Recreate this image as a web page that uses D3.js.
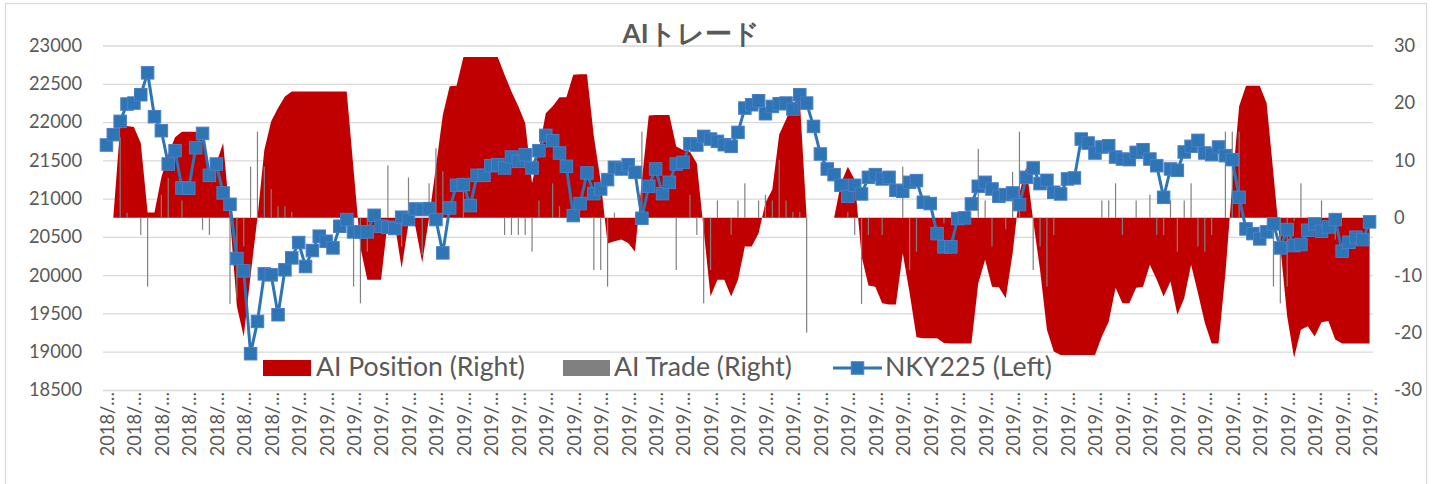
<!DOCTYPE html>
<html>
<head>
<meta charset="utf-8">
<script src="https://cdn.jsdelivr.net/npm/d3@7"></script>
<style>
  body { margin: 0; background: #fff; }
</style>
</head>
<body>
<div class="svg-container"></div>
<script>
//Data (one value per trading day)
const nky225 = [
  21700, 21835, 22009, 22235, 22248, 22357, 22643, 22070, 21887, 21452,
  21626, 21139, 21135, 21665, 21852, 21304, 21452, 21074, 20926, 20217,
  20056, 18974, 19396, 20017, 20004, 19483, 20070, 20226, 20426, 20113,
  20322, 20509, 20443, 20356, 20639, 20726, 20565, 20565, 20565, 20782,
  20639, 20626, 20609, 20757, 20726, 20865, 20857, 20870, 20726, 20291,
  20878, 21174, 21183, 20909, 21304, 21304, 21430, 21443, 21400, 21543,
  21487, 21574, 21400, 21626, 21826, 21757, 21596, 21422, 20778, 20935,
  21335, 21065, 21126, 21248, 21409, 21387, 21443, 21343, 20743, 21161,
  21387, 21065, 21213, 21452, 21474, 21717, 21700, 21813, 21778, 21748,
  21704, 21683, 21865, 22183, 22226, 22278, 22109, 22204, 22239, 22248,
  22170, 22357, 22248, 21943, 21583, 21387, 21313, 21174, 21030, 21174,
  21061, 21278, 21313, 21257, 21278, 21109, 21096, 21213, 21235, 20952,
  20935, 20543, 20370, 20370, 20739, 20748, 20930, 21161, 21213, 21126,
  21030, 21052, 21074, 20922, 21278, 21400, 21196, 21239, 21083, 21061,
  21257, 21270, 21778, 21726, 21596, 21674, 21691, 21543, 21517, 21509,
  21604, 21639, 21517, 21430, 21017, 21387, 21370, 21609, 21683, 21761,
  21596, 21574, 21674, 21561, 21509, 21017, 20604, 20543, 20474, 20565,
  20669, 20356, 20596, 20387, 20400, 20587, 20669, 20574, 20630, 20726,
  20313, 20430, 20496, 20465, 20696
];

const aiPosition = [
  0, 0, 15.8, 16, 15.8, 13, 0.9, 0.9, 7, 11,
  14, 15, 15, 15, 13.5, 8.5, 9.5, 13, 0, -15.4,
  -20.7, -10, 0, 11.8, 16.8, 19.1, 21.1, 22, 22, 22,
  22, 22, 22, 22, 22, 22, 8.4, -5.2, -10.8, -10.8,
  -10.8, -0.5, -1, -8.8, -1, -1.5, -7.8, 0, 8.9, 17.9,
  22.9, 23, 28, 28, 28, 28, 28, 28, 24.9, 22,
  19.4, 16.5, 6, 11.8, 18.2, 19.4, 21, 21, 24.9, 25,
  25, 14.2, 6.3, -4.5, -4.1, -3.8, -4.4, -5.9, 6.6, 17.8,
  17.9, 17.9, 17.9, 12.4, 11.8, 11.5, 9.5, -2.1, -13.7, -10.8,
  -10.8, -13.7, -10.8, -5, -5, -2.7, 2.6, 4.9, 14.5, 17.1,
  20, 20.5, 0, 0, 0, 0, 0, 6, 8.9, 6.6,
  -6.7, -11.8, -12, -14.9, -15.1, -15.1, -6.2, -13.1, -20.8, -21,
  -21, -21, -21.8, -21.9, -21.9, -21.9, -21.9, -11.4, -7.3, -12,
  -12.1, -14, -6.2, 4.3, 8.9, -0.5, -9.1, -19.5, -23.3, -23.9,
  -23.9, -23.9, -23.9, -23.9, -23.9, -20.7, -18.1, -12.2, -14.9, -14.9,
  -12.2, -12, -8.2, -10.8, -13.7, -11.1, -16.9, -14, -8.2, -13.1,
  -18.3, -21.9, -21.9, -9.7, 5.8, 19.4, 23, 23, 23, 20,
  7.6, -5, -17.2, -24.4, -19.5, -18.9, -20.7, -18.2, -18, -21.2,
  -21.9, -21.9, -21.9, -21.9, -21.9
];

const aiTrade = [
  0, 0, 14, 0.9, 0, -3, -12, 0, 4, 6.9,
  0, 3, 0, 0, -2.1, -3, 0, 0, -15, -14,
  -5, 8.9, 15, 8.9, 5, 2, 2, 1, 0, 0,
  0, 0, 0, 0, 0, 0, -12, -14.9, -5.9, 0,
  0, 9.1, 0, -5, 7, 0, -6.5, 6, 12.1, 8.1,
  0, 0, 4.6, 0, 0, 0, 0, 0, -3, -3,
  -3, -3, -5.9, 3, 0, 6, 2, 0, 0, 0,
  0, -9.1, -9.1, -12, 0.9, 0, 0, 0, 15, 0,
  0, 0, 0, -9.1, 0, 4, -3, -14.9, -9.1, 3,
  0, -3, 3, 6, 0, 3, 4, 3, 10.1, 3,
  1, 1, -20, 0, 0, 0, 0, 0, 1, -3,
  -15, -3, 0, -3, 0, 0, 8.9, -9.1, -5.9, 0,
  0, 0, -1, 0, 0, 0, 0, 12, 3, -5,
  0, -2, 8, 15, 0, -9.1, -5, -12, -3, 0,
  0, 0, 0, 0, 0, 3, 3, 6, -3, 0,
  3, 0, 4, -3, -3, 3, -5.9, 3, 6, -5,
  -5.9, -3, 0, 15, 15, 15, 0, 0, 0, 0,
  -12, -14.9, -12, -0.6, 6, 0, 0, 3, 0, -3.8,
  0, 0, 0, 0, 0
];

//one label every 4th category, as Excel shows them (truncated)
const tickLabels = [
  '2018/…', '2018/…', '2018/…', '2018/…', '2018/…', '2018/…', '2018/…',
  '2019/…', '2019/…', '2019/…', '2019/…', '2019/…', '2019/…', '2019/…', '2019/…',
  '2019/…', '2019/…', '2019/…', '2019/…', '2019/…', '2019/…', '2019/…', '2019/…',
  '2019/…', '2019/…', '2019/…', '2019/…', '2019/…', '2019/…', '2019/…', '2019/…',
  '2019/…', '2019/…', '2019/…', '2019/…', '2019/…', '2019/…', '2019/…', '2019/…',
  '2019/…', '2019/…', '2019/…', '2019/…', '2019/…', '2019/…', '2019/…', '2019/…'
];
const labelStep = 4;

const leftTicks = [18500, 19000, 19500, 20000, 20500, 21000, 21500, 22000, 22500, 23000];
const rightTicks = [-30, -20, -10, 0, 10, 20, 30];
const seriesNames = ['AI Position (Right)', 'AI Trade (Right)', 'NKY225 (Left)'];
const chartTitle = 'AIトレード';

//Layout
const W = 1437, H = 484;
const plot = {left: 103, right: 1373, top: 45.5, bottom: 390};
const textColor = '#595959';
const font = 'Lato, "Open Sans", sans-serif';
const red = '#C00000', gray = '#808080', blue = '#2E75B6';

const svg = d3.select('.svg-container')
  .append('svg')
  .attr('width', W)
  .attr('height', H)
  .style('font-family', font);

svg.append('rect')
  .attr('x', 0).attr('y', 0).attr('width', W).attr('height', H)
  .attr('fill', '#fff');

//chart border
svg.append('rect')
  .attr('x', 5.5).attr('y', 3.5)
  .attr('width', 1421).attr('height', 520)
  .attr('fill', 'none')
  .attr('stroke', '#d9d9d9')
  .attr('stroke-width', 1.3);

//font size so that a string gets a given width
function fitSize(text, target, weight) {
  const t = svg.append('text')
    .style('font-size', '100px')
    .style('font-weight', weight || 'normal')
    .text(text);
  const w = t.node().getComputedTextLength();
  t.remove();
  return 100 * target / w;
}
const tickSize = fitSize('23000', 53);
const legendSize = fitSize(seriesNames[0], 209);
const titleSize = fitSize(chartTitle, 134, 'bold');

//Scales
const cats = d3.range(nky225.length);
const x = d3.scaleBand().domain(cats).range([plot.left, plot.right]);
const cx = i => x(i) + x.bandwidth() / 2;
const yL = d3.scaleLinear().domain([18500, 23000]).range([plot.bottom, plot.top]);
const yR = d3.scaleLinear().domain([-30, 30]).range([plot.bottom, plot.top]);

//Gridlines
svg.append('g')
  .attr('class', 'grid')
  .attr('transform', `translate(${plot.left},0)`)
  .call(d3.axisLeft(yL).tickValues(leftTicks).tickSize(-(plot.right - plot.left)).tickFormat(''))
  .call(g => g.select('.domain').remove())
  .selectAll('line')
  .attr('stroke', '#d9d9d9')
  .attr('stroke-width', 1.3);

//AI Position area
const area = d3.area()
  .x((d, i) => cx(i))
  .y0(yR(0))
  .y1(d => yR(d));

svg.append('path')
  .datum(aiPosition)
  .attr('d', area)
  .attr('fill', red);

//AI Trade bars
svg.append('g')
  .selectAll('rect')
  .data(aiTrade.map((v, i) => ({i, v})).filter(d => d.v !== 0))
  .join('rect')
  .attr('x', d => cx(d.i) - 0.6)
  .attr('width', 1.2)
  .attr('y', d => Math.min(yR(d.v), yR(0)))
  .attr('height', d => Math.abs(yR(d.v) - yR(0)))
  .attr('fill', gray);

//NKY225 line + markers
const line = d3.line()
  .x((d, i) => cx(i))
  .y(d => yL(d));

svg.append('path')
  .datum(nky225)
  .attr('d', line)
  .attr('fill', 'none')
  .attr('stroke', blue)
  .attr('stroke-width', 3)
  .attr('stroke-linejoin', 'round');

const mk = 12.5;
svg.append('g')
  .selectAll('rect')
  .data(nky225)
  .join('rect')
  .attr('x', (d, i) => cx(i) - mk / 2)
  .attr('y', d => yL(d) - mk / 2)
  .attr('width', mk)
  .attr('height', mk)
  .attr('fill', blue)
  .attr('stroke', '#4A7EC7')
  .attr('stroke-width', 1);

//Axes
const styleAxis = g => {
  g.select('.domain').remove();
  g.selectAll('text')
    .attr('fill', textColor)
    .style('font-size', tickSize + 'px')
    .style('font-family', font);
};

svg.append('g')
  .attr('transform', 'translate(82,0)')
  .call(d3.axisLeft(yL).tickValues(leftTicks).tickSize(0).tickPadding(0).tickFormat(d => String(d)))
  .call(styleAxis);

svg.append('g')
  .attr('transform', 'translate(1394,0)')
  .call(d3.axisRight(yR).tickValues(rightTicks).tickSize(0).tickPadding(0).tickFormat(d => String(d)))
  .call(styleAxis);

svg.append('g')
  .attr('transform', `translate(0,${plot.bottom})`)
  .call(d3.axisBottom(x)
    .tickValues(cats.filter(i => i % labelStep === 0))
    .tickSize(0)
    .tickFormat(i => tickLabels[i / labelStep]))
  .call(styleAxis)
  .selectAll('text')
  .attr('transform', 'rotate(-90)')
  .attr('text-anchor', 'end')
  .attr('x', -2)
  .attr('y', 1)
  .attr('dy', '0.35em');

//Title
svg.append('text')
  .attr('x', 691)
  .attr('y', 43)
  .attr('text-anchor', 'middle')
  .attr('fill', textColor)
  .style('font-weight', 'bold')
  .style('font-size', titleSize + 'px')
  .text(chartTitle);

//Legend
const legend = svg.append('g').attr('class', 'legend');
const legY = 368;

legend.append('rect')
  .attr('x', 263).attr('y', legY - 8).attr('width', 48).attr('height', 16)
  .attr('fill', red);
legend.append('rect')
  .attr('x', 563).attr('y', legY - 8).attr('width', 47).attr('height', 16)
  .attr('fill', gray);
legend.append('line')
  .attr('x1', 833).attr('x2', 882).attr('y1', legY).attr('y2', legY)
  .attr('stroke', blue).attr('stroke-width', 3);
legend.append('rect')
  .attr('x', 857.5 - mk / 2).attr('y', legY - mk / 2).attr('width', mk).attr('height', mk)
  .attr('fill', blue).attr('stroke', '#4A7EC7');

legend.selectAll('.legend-text')
  .data(seriesNames)
  .join('text')
  .attr('class', 'legend-text')
  .attr('x', (d, i) => [316, 614, 885][i])
  .attr('y', 376)
  .attr('fill', textColor)
  .style('font-size', legendSize + 'px')
  .text(d => d);
</script>
</body>
</html>
